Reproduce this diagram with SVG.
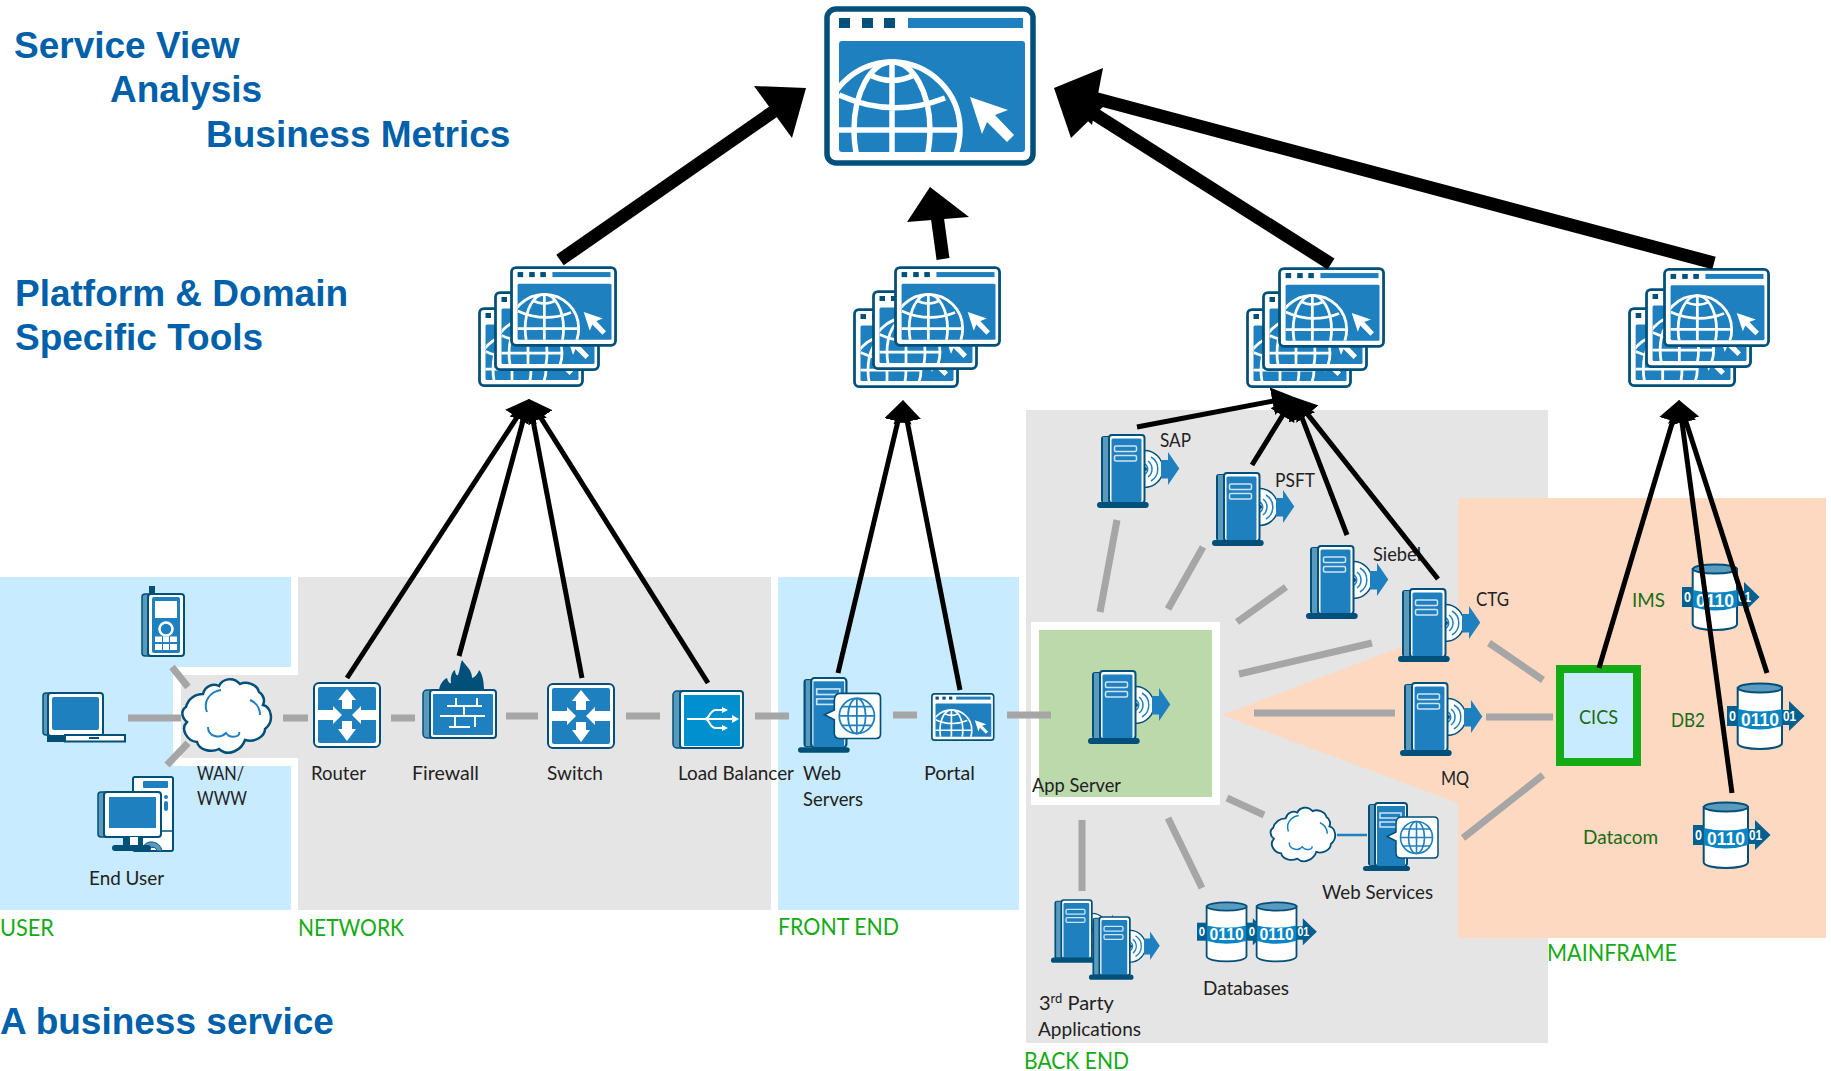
<svg xmlns="http://www.w3.org/2000/svg" xmlns:xlink="http://www.w3.org/1999/xlink" width="1831" height="1071" viewBox="0 0 1831 1071">
<style>
text{font-family:"Lato","Liberation Sans",sans-serif}
.h{font-family:"Liberation Sans",Arial,sans-serif;font-weight:700;font-size:37px;fill:#0060a9}
.l{font-size:20px;fill:#222}
.m{font-size:20px;fill:#1b6b14}
.z{font-size:24px;fill:#14ab14}
.d{font-family:"Liberation Sans",sans-serif;font-weight:700;font-size:18px;fill:#fff}
.d2{font-family:"Liberation Sans",sans-serif;font-weight:700;font-size:14px;fill:#fff}
.g{stroke:#a6a6a6;stroke-width:7;fill:none}
.k{stroke:#000;stroke-width:5;fill:none;marker-end:url(#ah)}
.t{stroke:#000;stroke-width:13;fill:none}
.dk{fill:#01507a}.md{fill:#5b9abf}.bl{fill:#1f80bf}.wh{fill:#fff}
.bo{fill:#fff;stroke:#01507a;stroke-width:2}
.wl{fill:none;stroke:#fff;stroke-width:2}
</style>
<defs>
<marker id="ah" markerUnits="userSpaceOnUse" markerWidth="30" markerHeight="34" refX="10" refY="15" orient="auto" viewBox="0 0 30 30"><path d="M0,1 L22,15 L0,29Z" fill="#000"/></marker>
<clipPath id="wc"><rect x="15" y="35" width="186" height="111" rx="3"/></clipPath>
<g id="win">
<rect x="3" y="3" width="206" height="154" rx="9" fill="#fff" stroke="#01507a" stroke-width="5.500"/>
<rect x="15" y="12" width="11" height="10" class="dk"/><rect x="38" y="12" width="11" height="10" class="dk"/><rect x="60" y="12" width="11" height="10" class="dk"/>
<rect x="84" y="12" width="115" height="10" class="bl"/>
<rect x="15" y="35" width="186" height="111" rx="3" class="bl"/>
<g clip-path="url(#wc)" fill="none" stroke="#fff" stroke-width="5.5">
<circle cx="68" cy="124" r="68"/><ellipse cx="68" cy="124" rx="38" ry="68"/><path d="M68,56V160M0,124H136M15,89Q68,113 121,92M46,69Q68,80 90,69"/>
</g>
<path d="M146,91L184,104L171,109L190,129L183,136L163,116L158,128Z" fill="#fff"/>
</g>
<g id="srv">
<circle cx="47.5" cy="34" r="18.5" fill="#fff" stroke="#01507a" stroke-width="1.5"/>
<g fill="none" stroke="#1f80bf" stroke-width="1.5"><path d="M51,26A10,10 0 0 1 51,42M54,22A14,14 0 0 1 54,46M48,29A6,6 0 0 1 48,39"/></g>
<circle cx="48" cy="34" r="2" fill="#01507a"/>
<path d="M64,25H71V17L82.3,33.5L71,50V43.5H64Z" class="bl"/>
<rect x="4" y="1" width="12" height="67" rx="3" class="dk"/><rect x="6" y="2" width="6" height="65" class="md"/>
<rect x="12" y="0" width="35.5" height="68" rx="3" class="bo"/>
<rect x="14.5" y="3.5" width="30" height="64" rx="1.5" class="bl"/>
<rect x="17.5" y="11" width="22" height="5.5" rx="1.5" fill="none" stroke="#cfe4f2" stroke-width="1.5"/><rect x="17.5" y="20.5" width="22" height="5.5" rx="1.5" fill="none" stroke="#cfe4f2" stroke-width="1.5"/>
<rect x="0" y="67" width="51.7" height="6" rx="3" class="dk"/>
</g>
<g id="db">
<path d="M10.7,5V60C10.7,68 55,68 55,60V5Z" class="bo"/>
<ellipse cx="33" cy="5" rx="22" ry="4.5" class="md" stroke="#01507a" stroke-width="2"/>
<path d="M10.7,26Q33,31 55,26V43Q33,50 10.7,43Z" fill="#0a85c4"/>
<rect x="0" y="23" width="11" height="20" fill="#01608f"/>
<path d="M55,27H62V18L77.6,33L62,48V42H55Z" fill="#01608f"/>
<text class="d2" x="2" y="38" textLength="7" lengthAdjust="spacingAndGlyphs">0</text><text class="d" x="14" y="42.500" textLength="38" lengthAdjust="spacingAndGlyphs">0110</text><text class="d2" x="56" y="38" textLength="13" lengthAdjust="spacingAndGlyphs">01</text>
</g>
<g id="cloud">
<path d="M3,30C5,22 12,17 20,17C22,9 30,6 36,9C39,2 50,-1 57,7C63,4 74,7 76,15C81,18 82,24 80,28C88,30 92,44 82,52C82,59 72,66 62,63C59,72 46,81 36,72C28,76 16,73 14,65C4,64 -3,52 4,45C-2,40 -2,33 3,30Z" fill="#fff" stroke="#01507a" stroke-width="2.5"/>
<path d="M24,35C20,25 26,15 38,13M67,23C72,25 77,30 77,38M25,50C25,60 37,62 43,56C47,62 58,60 56,55" fill="none" stroke="#1f80bf" stroke-width="2"/>
</g>
<g id="rt">
<rect x="1" y="1" width="66" height="64" rx="5" fill="#fff" stroke="#01507a" stroke-width="2"/>
<rect x="5" y="5" width="58" height="56" rx="2" class="bl"/>
<path d="M34,7L43,18H39V27H29V18H25ZM34,59L43,47H39V39H29V47H25ZM29,33L20,24V28H5V38H20V42ZM39,33L48,24V28H63V38H48V42Z" fill="#fff"/>
</g>
<g id="webs">
<rect x="5" y="1" width="12" height="62" rx="3" class="dk"/><rect x="7" y="2" width="6" height="60" class="md"/>
<rect x="12" y="0" width="32" height="63" rx="3" class="bo"/>
<rect x="14" y="3" width="28" height="60" class="bl"/>
<rect x="17" y="10" width="21" height="5" fill="none" stroke="#cfe4f2" stroke-width="1.5"/><rect x="17" y="19" width="21" height="5" fill="none" stroke="#cfe4f2" stroke-width="1.5"/>
<rect x="0" y="63" width="47" height="5" rx="2.500" class="dk"/>
<path d="M33,21Q33,14 38,14H71Q75,14 75,18V51Q75,55 71,55H38Q33,55 33,50V38L24,33.500L33,29Z" fill="#fff" stroke="#01507a" stroke-width="1.5"/>
<g fill="none" stroke="#1f80bf" stroke-width="1.6"><circle cx="53.500" cy="34.500" r="16"/><ellipse cx="53.500" cy="34.500" rx="8" ry="16"/><path d="M53.500,18.500V50.500M37.500,34.500H69.500M40,26H67M40,43H67"/></g>
</g>
</defs>

<g id="backgrounds">
<path d="M0,577H291V667H173V766H291V910H0Z" fill="#c9ebff"/>
<path d="M298,577H771V910H298V758H181V675H298Z" fill="#e5e5e5"/>
<rect x="778" y="577" width="241" height="333" fill="#c9ebff"/>
<rect x="1026" y="410" width="522" height="633" fill="#e5e5e5"/>
<path d="M1222,715L1458,625V498H1826V938H1458V803Z" fill="#fdd9c2"/>
<rect x="1035" y="626" width="181" height="175" fill="#bcd9ac" stroke="#fff" stroke-width="8"/>
<rect x="1560" y="669" width="77" height="93" fill="#c9ebff" stroke="#14ab14" stroke-width="8"/>
</g>

<g id="labels-heading">
<text class="h" x="14" y="58">Service View</text>
<text class="h" x="110" y="102">Analysis</text>
<text class="h" x="206" y="147">Business Metrics</text>
<text class="h" x="15" y="306">Platform &amp; Domain</text>
<text class="h" x="15" y="350">Specific Tools</text>
<text class="h" x="0" y="1034">A business service</text>
<text class="z" x="0" y="936" textLength="54" lengthAdjust="spacingAndGlyphs">USER</text>
<text class="z" x="298" y="936" textLength="106" lengthAdjust="spacingAndGlyphs">NETWORK</text>
<text class="z" x="778" y="935" textLength="121" lengthAdjust="spacingAndGlyphs">FRONT END</text>
<text class="z" x="1547" y="961" textLength="130" lengthAdjust="spacingAndGlyphs">MAINFRAME</text>
<text class="z" x="1024" y="1069" textLength="105" lengthAdjust="spacingAndGlyphs">BACK END</text>
</g>

<g id="service-view"><use href="#win" transform="translate(824,6)"/></g>
<g id="tools-1"><use href="#win" transform="translate(478,307) scale(.5)"/><use href="#win" transform="translate(494,291) scale(.5)"/><use href="#win" transform="translate(510,266) scale(.505)"/></g>
<g id="tools-2"><use href="#win" transform="translate(853,308) scale(.5)"/><use href="#win" transform="translate(872,290) scale(.5)"/><use href="#win" transform="translate(894,266) scale(.505)"/></g>
<g id="tools-3"><use href="#win" transform="translate(1246,308) scale(.5)"/><use href="#win" transform="translate(1262,291) scale(.5)"/><use href="#win" transform="translate(1278,267) scale(.505)"/></g>
<g id="tools-4"><use href="#win" transform="translate(1628,307) scale(.51,.5)"/><use href="#win" transform="translate(1645,288) scale(.505,.5)"/><use href="#win" transform="translate(1663,268) scale(.505,.495)"/></g>

<g id="phone" transform="translate(142,586)">
<rect x="7" y="0" width="6" height="10" class="dk"/><rect x="0" y="8" width="12" height="62" rx="3" class="md" stroke="#01507a" stroke-width="1.500"/>
<rect x="6" y="8" width="36" height="62" rx="3" class="bo"/><rect x="10" y="11" width="28" height="56" rx="2" class="bl"/>
<rect x="13" y="15" width="22" height="17" fill="#fff"/><circle cx="24" cy="43" r="6.500" fill="#1f80bf" stroke="#fff" stroke-width="2.500"/>
<path d="M13,50.500H20V56H13ZM21,50.500H27V56H21ZM28,50.500H35V56H28ZM13,58H20V64H13ZM21,58H27V64H21ZM28,58H35V64H28Z" fill="#fff"/>
</g>
<g id="laptop" transform="translate(42,692)">
<rect x="1" y="1" width="12" height="42" rx="3" class="md" stroke="#01507a" stroke-width="1.500"/>
<rect x="6" y="1" width="55" height="43" rx="3" class="bo"/><rect x="10" y="5" width="47" height="33" rx="2" class="bl"/>
<rect x="5" y="43" width="19" height="7" class="dk"/><rect x="23" y="43" width="60" height="6.500" class="bo"/><rect x="47" y="45" width="10" height="2" class="dk"/>
</g>
<g id="end-user" transform="translate(98,776)">
<rect x="35" y="1" width="40" height="74" rx="2" class="bo"/><rect x="45" y="5" width="25" height="7" rx="1" class="bl"/><circle cx="68" cy="21" r="2" class="bl"/><rect x="66" y="25" width="4" height="10" rx="2" class="bl"/>
<path d="M51,55H75" stroke="#01507a" stroke-width="1.500"/>
<path d="M46,75V70C48,64 62,64 64,75H59C58,70 52,70 51,75Z" class="md" stroke="#01507a" stroke-width="1"/>
<rect x="0" y="16" width="12" height="45" rx="3" class="md" stroke="#01507a" stroke-width="1.500"/>
<rect x="6" y="16" width="57" height="45" rx="3" class="bo"/><rect x="11" y="21" width="47" height="31" class="bl"/>
<rect x="25" y="61" width="20" height="10" class="dk"/><rect x="32" y="61" width="8" height="9" fill="#fff"/><rect x="14" y="69" width="39" height="6" rx="3" class="dk"/>
</g>
<g id="wan-www"><use href="#cloud" transform="translate(183,677)"/></g>
<g id="router"><use href="#rt" transform="translate(313,682)"/></g>
<g id="firewall" transform="translate(422,660)">
<path d="M17,30C18,22 24,18 25,18C26,22 28,24 29,23C28,15 31,11 33,10C33,14 35,16 36,15C38,10 38,4 40,0C44,6 50,10 50,18C52,18 56,14 57,10C61,14 62,24 62,30Z" class="dk"/>
<rect x="1" y="30" width="14" height="48" rx="4" class="md" stroke="#01507a" stroke-width="1.500"/>
<rect x="8" y="30" width="66" height="48" rx="3" class="bo"/><rect x="11" y="34" width="60" height="41" rx="1" class="bl"/>
<path class="wl" d="M25,46H60M18,56H63M27,67H48M34,38V46M55,38V46M42,46V56M33,56V67M53,56V67"/>
</g>
<g id="switch"><use href="#rt" transform="translate(547,683)"/></g>
<g id="load-balancer" transform="translate(672,690)">
<rect x="1" y="1" width="14" height="57" rx="4" class="md" stroke="#01507a" stroke-width="1.500"/>
<rect x="8" y="1" width="63" height="57" rx="3" class="bo"/><rect x="12" y="5" width="56" height="51" fill="#0090cf"/>
<path class="wl" d="M15,29H60M33,29C38,29 37,20 44,20H50M33,29C38,29 37,38 44,38H50"/>
<path d="M60,25L67,29L60,33ZM50,17L56,20L50,23ZM50,35L56,38L50,41Z" fill="#fff"/>
</g>
<g id="web-servers"><use href="#webs" transform="translate(798,678) scale(1.1)"/></g>
<g id="portal"><use href="#win" transform="translate(931,693) scale(.3)"/></g>
<g id="app-server"><use href="#srv" transform="translate(1088,671)"/></g>
<g id="sap"><use href="#srv" transform="translate(1097,435)"/></g>
<g id="psft"><use href="#srv" transform="translate(1212,473)"/></g>
<g id="siebel"><use href="#srv" transform="translate(1306,546)"/></g>
<g id="ctg"><use href="#srv" transform="translate(1398,589)"/></g>
<g id="mq"><use href="#srv" transform="translate(1400,683)"/></g>
<g id="third-party"><use href="#srv" transform="translate(1051,900) scale(.86)"/><use href="#srv" transform="translate(1089,917) scale(.86)"/></g>
<g id="databases"><use href="#db" transform="translate(1197,902) scale(.9)"/><use href="#db" transform="translate(1247,902) scale(.9)"/></g>
<g id="web-services"><use href="#cloud" transform="translate(1271,806) scale(.73)"/><use href="#webs" transform="translate(1363,803)"/></g>
<g id="ims"><use href="#db" transform="translate(1682,564)"/></g>
<g id="db2"><use href="#db" transform="translate(1727,683)"/></g>
<g id="datacom"><use href="#db" transform="translate(1693,802)"/></g>

<g id="labels">
<text class="l" x="197" y="780" textLength="47" lengthAdjust="spacingAndGlyphs">WAN/</text>
<text class="l" x="197" y="805" textLength="50" lengthAdjust="spacingAndGlyphs">WWW</text>
<text class="l" x="311" y="780" textLength="55" lengthAdjust="spacingAndGlyphs">Router</text>
<text class="l" x="412" y="780" textLength="67" lengthAdjust="spacingAndGlyphs">Firewall</text>
<text class="l" x="547" y="780" textLength="56" lengthAdjust="spacingAndGlyphs">Switch</text>
<text class="l" x="678" y="780" textLength="116" lengthAdjust="spacingAndGlyphs">Load Balancer</text>
<text class="l" x="803" y="780" textLength="38" lengthAdjust="spacingAndGlyphs">Web</text>
<text class="l" x="803" y="806" textLength="60" lengthAdjust="spacingAndGlyphs">Servers</text>
<text class="l" x="924" y="780" textLength="51" lengthAdjust="spacingAndGlyphs">Portal</text>
<text class="l" x="89" y="885" textLength="75" lengthAdjust="spacingAndGlyphs">End User</text>
<text class="l" x="1032" y="792" textLength="89" lengthAdjust="spacingAndGlyphs">App Server</text>
<text class="l" x="1160" y="447" textLength="31" lengthAdjust="spacingAndGlyphs">SAP</text>
<text class="l" x="1275" y="487" textLength="40" lengthAdjust="spacingAndGlyphs">PSFT</text>
<text class="l" x="1373" y="561" textLength="48" lengthAdjust="spacingAndGlyphs">Siebel</text>
<text class="l" x="1476" y="606" textLength="33" lengthAdjust="spacingAndGlyphs">CTG</text>
<text class="l" x="1441" y="785" textLength="28" lengthAdjust="spacingAndGlyphs">MQ</text>
<text class="l" x="1322" y="899" textLength="111" lengthAdjust="spacingAndGlyphs">Web Services</text>
<text class="l" x="1203" y="995" textLength="86" lengthAdjust="spacingAndGlyphs">Databases</text>
<text class="l" x="1039" y="1010">3<tspan font-size="13" dy="-7">rd</tspan><tspan dy="7"> Party</tspan></text>
<text class="l" x="1038" y="1036" textLength="103" lengthAdjust="spacingAndGlyphs">Applications</text>
<text class="m" x="1579" y="724" textLength="39" lengthAdjust="spacingAndGlyphs">CICS</text>
<text class="m" x="1632" y="607" textLength="33" lengthAdjust="spacingAndGlyphs">IMS</text>
<text class="m" x="1671" y="727" textLength="34" lengthAdjust="spacingAndGlyphs">DB2</text>
<text class="m" x="1583" y="844" textLength="75" lengthAdjust="spacingAndGlyphs">Datacom</text>
</g>

<g id="connectors">
<path class="g" d="M172,667L188,687M128,718H181M167,765L188,743M283,718H308M391,718H415M506,716H538M626,716H660M755,716H789M893,715H917M1007,715H1051"/>
<path class="g" d="M1117,520L1100,612M1203,547L1168,609M1286,587L1237,622M1372,643L1239,674M1254,713H1395M1082,820V891M1168,818L1202,888M1227,798L1264,815M1489,643L1543,680M1486,717H1553M1463,838L1543,775"/>
<path d="M1337,835H1367" stroke="#1f80bf" stroke-width="2.500" fill="none"/>
<path class="k" d="M347,678L522.4,409"/><path class="k" d="M459,656L525.8,410.600"/><path class="k" d="M582,678L531.2,410.800"/><path class="k" d="M708,683L535.4,409.200"/>
<path class="k" d="M838,673L900.2,411.700"/><path class="k" d="M960,690L905.3,411.800"/>
<path class="k" d="M1137,427L1282.2,399.300"/><path class="k" d="M1252,465L1287.7,407.200"/><path class="k" d="M1347,535L1298.300,408.200"/><path class="k" d="M1438,579L1301.400,406.400"/>
<path class="k" d="M1599,668L1675.600,411.500"/><path class="k" d="M1767,673L1682.700,411.400"/><path class="k" d="M1732,793L1680.600,411.900"/>
<path class="t" d="M560,260L780,107"/><path d="M806,88L754,86L792,138Z"/>
<path class="t" d="M943,259L937,215"/><path d="M930,187L907,222L969,217Z"/>
<path class="t" d="M1331,264L1085,108"/><path d="M1054,88L1071,138L1110,100Z"/>
<path class="t" d="M1714,263L1090,97"/><path d="M1054,88L1103,68L1092,125Z"/>
</g>
</svg>
